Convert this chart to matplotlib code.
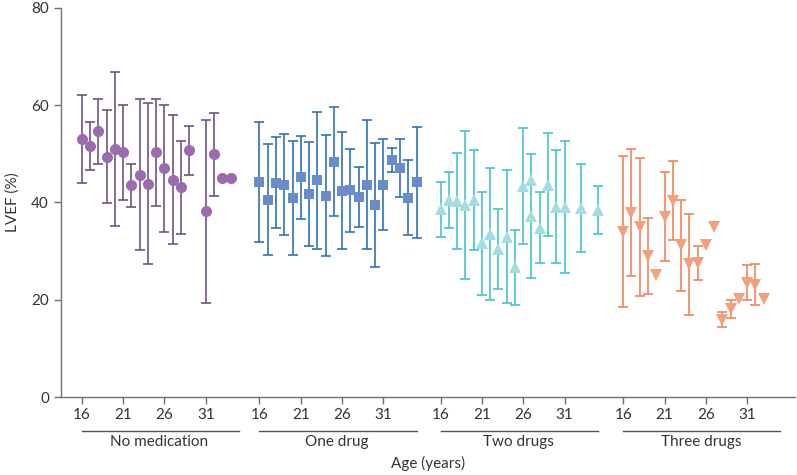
import numpy as np
import matplotlib
matplotlib.use("Agg")
import matplotlib.pyplot as plt
import matplotlib.transforms as mtransforms

plt.rcParams["font.family"] = ["Lato", "DejaVu Sans"]

# group names and offsets along the shared x axis (in years)
groups = ["No medication", "One drug", "Two drugs", "Three drugs"]
group_offsets = [0, 21.5, 43.4, 65.5]
tick_ages = [16, 21, 26, 31]

# No medication: mean LVEF and SD (nan = no error bar)
age_none = [16, 17, 18, 19, 20, 21, 22, 23, 24, 25, 26, 27, 28, 29, 31, 32, 33, 34]
mean_none = [53.1, 51.6, 54.6, 49.4, 51.0, 50.3, 43.5, 45.7, 43.9, 50.3,
             47.0, 44.7, 43.1, 50.7, 38.2, 49.9, 45.1, 45.1]
sd_none = [9.0, 4.9, 6.6, 9.6, 15.9, 9.8, 4.4, 15.5, 16.5, 11.0,
           13.0, 13.2, 9.6, 5.0, 18.8, 8.6, np.nan, np.nan]

# One drug
age_one = [16, 17, 18, 19, 20, 21, 22, 23, 24, 25, 26, 27, 28, 29, 30, 31, 32, 33, 34, 35]
mean_one = [44.2, 40.6, 44.1, 43.7, 40.9, 45.2, 41.7, 44.6, 41.4, 48.4,
            42.4, 42.5, 41.2, 43.7, 39.5, 43.7, 48.8, 47.1, 41.0, 44.2]
sd_one = [12.4, 11.5, 9.4, 10.3, 11.8, 8.5, 10.7, 14.1, 12.4, 11.2,
          12.0, 8.5, 6.2, 13.3, 12.7, 9.4, 2.5, 5.9, 7.7, 11.4]

# Two drugs
age_two = [16, 17, 18, 19, 20, 21, 22, 23, 24, 25, 26, 27, 27, 28, 29, 30, 31, 33, 35]
mean_two = [38.6, 40.5, 40.3, 39.5, 40.5, 31.6, 33.5, 30.5, 33.0, 26.7,
            43.4, 44.6, 37.2, 34.8, 43.7, 39.1, 39.1, 38.9, 38.4]
sd_two = [5.7, 5.7, 9.9, 15.2, 10.2, 10.6, 13.6, 8.2, 13.7, 7.7,
          11.9, np.nan, 12.8, 7.3, 10.5, 11.6, 13.6, 9.0, 4.9]

# Three drugs
age_three = [16, 17, 18, 19, 20, 21, 22, 23, 24, 25, 26, 27, 28, 29, 30, 31, 32, 33]
mean_three = [34.0, 37.9, 35.0, 29.0, 25.0, 37.1, 40.4, 31.2, 27.3, 27.6,
              31.2, 35.0, 15.9, 18.1, 20.1, 23.5, 23.1, 20.2]
sd_three = [15.5, 13.1, 14.2, 7.8, np.nan, 9.2, 8.2, 9.4, 10.4, 3.5,
            np.nan, np.nan, 1.5, 1.8, np.nan, 3.6, 4.2, np.nan]

series = [
    (age_none, mean_none, sd_none, "o", "#9b6bb0", "#6e5480", 8.0),
    (age_one, mean_one, sd_one, "s", "#6a8cc8", "#2f72b8", 7.5),
    (age_two, mean_two, sd_two, "^", "#a3dde0", "#45c4cc", 8.0),
    (age_three, mean_three, sd_three, "v", "#f2a07e", "#f2845a", 8.0),
]

fig = plt.figure(figsize=(7.97, 4.75), dpi=100)
ax = fig.add_axes([0.0762, 0.1642, 0.921, 0.819])

for (ages, means, sds, marker, mcol, ecol, ms), off in zip(series, group_offsets):
    x = np.array(ages, dtype=float) + off
    y = np.array(means)
    sd = np.array(sds)
    has = ~np.isnan(sd)
    ax.errorbar(x[has], y[has], yerr=sd[has], fmt="none", ecolor=ecol,
                elinewidth=1.2, capsize=3.5, capthick=1.2, zorder=2)
    ax.plot(x, y, linestyle="none", marker=marker, markersize=ms,
            color=mcol, markeredgewidth=0, zorder=3)

ax.set_xlim(13.46, 102.25)
ax.set_ylim(0, 80)
ax.set_yticks([0, 20, 40, 60, 80])

xt = [a + off for off in group_offsets for a in tick_ages]
ax.set_xticks(xt)
ax.set_xticklabels([str(a) for off in group_offsets for a in tick_ages])

for side in ["top", "right"]:
    ax.spines[side].set_visible(False)
for side in ["left", "bottom"]:
    ax.spines[side].set_color("#707070")
    ax.spines[side].set_linewidth(1.0)
ax.tick_params(axis="both", colors="#707070", labelcolor="#333333",
               labelsize=11, length=5, width=1.0)
ax.tick_params(axis="x", pad=3)

ax.set_ylabel("LVEF (%)", fontsize=11, color="#333333", labelpad=8)

# group underlines and names below the tick labels
trans = mtransforms.blended_transform_factory(ax.transData, ax.transAxes)
for name, off in zip(groups, group_offsets):
    ax.plot([16 + off, 35 + off], [-0.0874, -0.0874], color="#555555",
            linewidth=1.0, transform=trans, clip_on=False)
    ax.text(25.4 + off, -0.115, name, transform=trans, ha="center",
            va="center", fontsize=11, color="#333333")

ax.text(57.9, -0.17, "Age (years)", transform=trans,
        ha="center", va="center", fontsize=11, color="#333333")

fig.savefig("out.png", dpi=100)
